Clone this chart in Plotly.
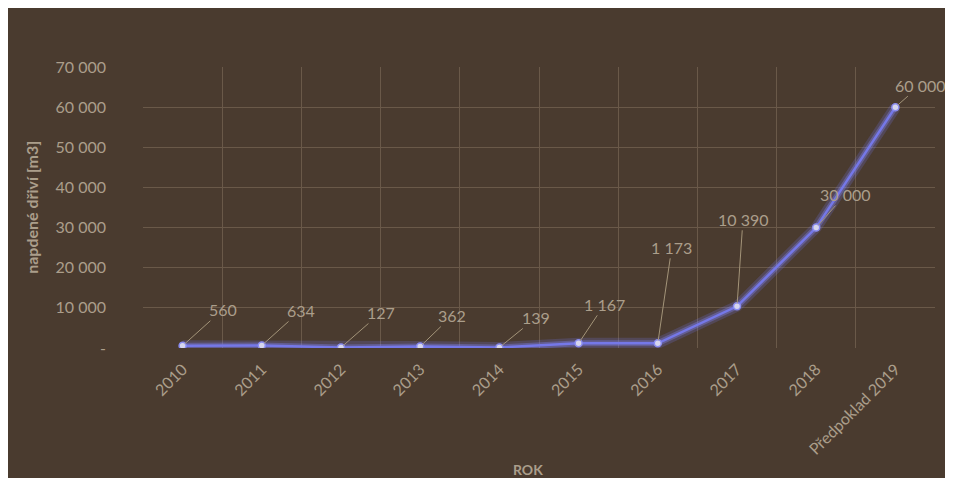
import plotly.graph_objects as go

years = ["2010", "2011", "2012", "2013", "2014", "2015", "2016", "2017", "2018", "Předpoklad 2019"]
volumes = [560, 634, 127, 362, 139, 1167, 1173, 10390, 30000, 60000]
value_labels = ["560", "634", "127", "362", "139", "1 167", "1 173", "10 390", "30 000", "60 000"]
label_dx = [40, 39, 40, 32, 37, 26, 14, 6, 29, 25]
label_dy = [-36, -35, -35, -31, -30, -39, -96, -87, -33, -22]
y_tickvals = [0, 10000, 20000, 30000, 40000, 50000, 60000, 70000]
y_ticktext = ["-", "10 000", "20 000", "30 000", "40 000", "50 000", "60 000", "70 000"]

BROWN = "#4a3b2f"
TXT = "#ab9e8b"
GRID = "#6a5949"
FONT = "Lato, 'Open Sans', sans-serif"

fig = go.Figure()
# glow
fig.add_trace(go.Scatter(x=years, y=volumes, mode="lines",
                         line=dict(color="rgba(120,125,255,0.20)", width=11),
                         hoverinfo="skip", showlegend=False))
fig.add_trace(go.Scatter(x=years, y=volumes, mode="lines",
                         line=dict(color="rgba(130,135,255,0.35)", width=6),
                         hoverinfo="skip", showlegend=False))
fig.add_trace(go.Scatter(x=years, y=volumes, mode="lines+markers",
                         line=dict(color="#7578e8", width=2.5),
                         marker=dict(size=7, color="#d6d6ee", line=dict(color="#8a8cf0", width=1.5)),
                         showlegend=False))

for i, (v, t, dx, dy) in enumerate(zip(volumes, value_labels, label_dx, label_dy)):
    fig.add_annotation(x=i, y=v, xref="x", yref="y", text=t, showarrow=True, arrowhead=0,
                       arrowwidth=1, arrowcolor="#a39479", ax=dx, ay=dy,
                       font=dict(family=FONT, size=16, color=TXT), standoff=3)

fig.add_annotation(xref="paper", yref="paper", x=0.486, y=-0.434, text="<b>ROK</b>",
                   showarrow=False, font=dict(family=FONT, size=14, color=TXT),
                   xanchor="center", yanchor="middle")
fig.add_annotation(xref="paper", yref="paper", x=-0.141, y=0.5, text="<b>napdené dřiví [m3]</b>",
                   showarrow=False, textangle=-90, font=dict(family=FONT, size=16, color=TXT),
                   xanchor="center", yanchor="middle")

fig.update_layout(
    width=945, height=470,
    margin=dict(l=135, r=18, t=59, b=130),
    paper_bgcolor=BROWN,
    plot_bgcolor=BROWN,
    font=dict(family=FONT, color=TXT),
    xaxis=dict(type="category", tickson="boundaries", showgrid=True,
               gridcolor=GRID, gridwidth=1, tickangle=-45,
               tickfont=dict(size=16, color=TXT), showline=False, zeroline=False,
               ticks="", range=[-0.5, 9.5], automargin=False, ticklabelstandoff=8),
    yaxis=dict(range=[0, 70000], tickvals=y_tickvals, ticktext=y_ticktext,
               showgrid=True, gridcolor=GRID, gridwidth=1, zeroline=False,
               showline=False, ticklabelstandoff=36, automargin=False,
               tickfont=dict(size=16, color=TXT)),
)

fig.write_html("out.html")
